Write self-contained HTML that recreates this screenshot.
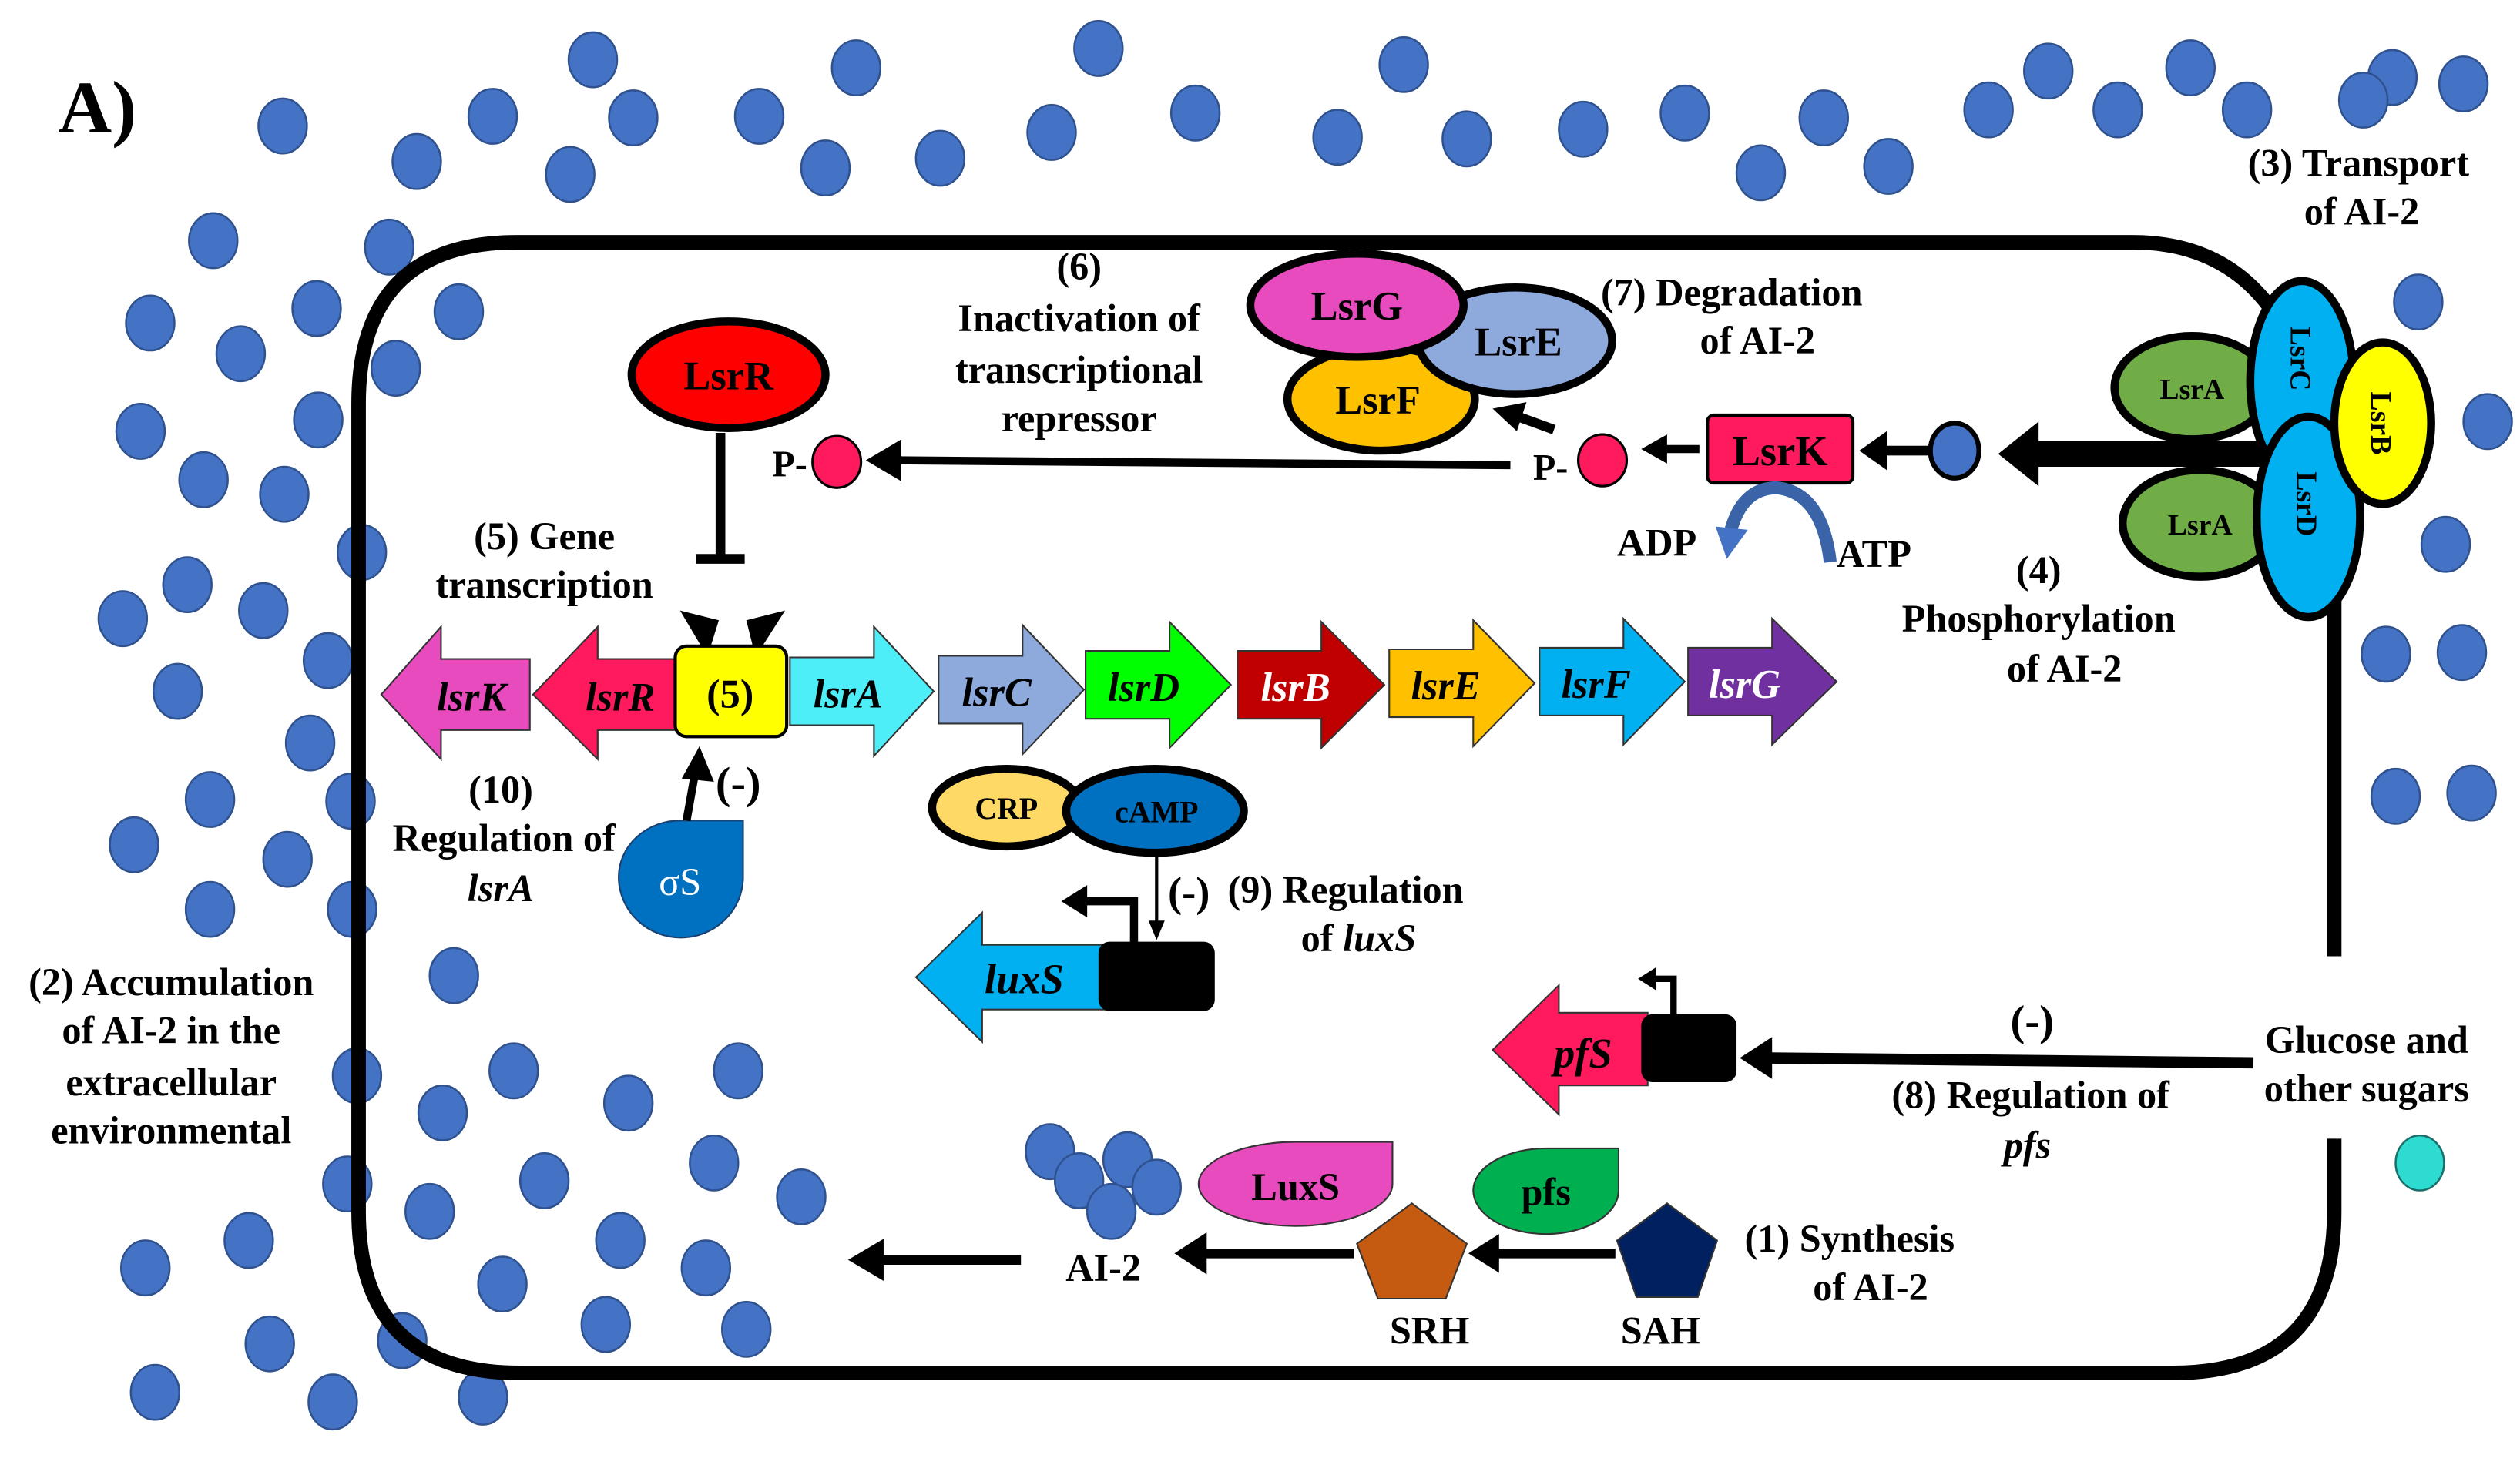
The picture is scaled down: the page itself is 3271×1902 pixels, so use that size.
<!DOCTYPE html>
<html><head><meta charset="utf-8"><style>html,body{margin:0;padding:0;background:#fff}svg{display:block}text{font-family:"Liberation Serif",serif;font-weight:bold;fill:#000}</style></head><body>
<svg width="3271" height="1902" viewBox="0 0 1560 907" preserveAspectRatio="none" xmlns="http://www.w3.org/2000/svg">
<rect width="1560" height="907" fill="#fff"/>
<text x="36" y="82" font-size="46">A)</text>
<g fill="#4472C4" stroke="#2F528F" stroke-width="1.2">
<ellipse cx="175" cy="78" rx="15" ry="17"/><ellipse cx="258" cy="100" rx="15" ry="17"/><ellipse cx="305" cy="72" rx="15" ry="17"/><ellipse cx="367" cy="37" rx="15" ry="17"/><ellipse cx="392" cy="73" rx="15" ry="17"/><ellipse cx="353" cy="108" rx="15" ry="17"/><ellipse cx="470" cy="72" rx="15" ry="17"/><ellipse cx="511" cy="104" rx="15" ry="17"/><ellipse cx="530" cy="42" rx="15" ry="17"/><ellipse cx="582" cy="98" rx="15" ry="17"/><ellipse cx="651" cy="82" rx="15" ry="17"/><ellipse cx="680" cy="30" rx="15" ry="17"/><ellipse cx="740" cy="70" rx="15" ry="17"/><ellipse cx="828" cy="85" rx="15" ry="17"/><ellipse cx="869" cy="40" rx="15" ry="17"/><ellipse cx="908" cy="86" rx="15" ry="17"/><ellipse cx="980" cy="80" rx="15" ry="17"/><ellipse cx="1043" cy="70" rx="15" ry="17"/><ellipse cx="1090" cy="107" rx="15" ry="17"/><ellipse cx="1129" cy="73" rx="15" ry="17"/><ellipse cx="1169" cy="103" rx="15" ry="17"/><ellipse cx="1231" cy="68" rx="15" ry="17"/><ellipse cx="1268" cy="44" rx="15" ry="17"/><ellipse cx="1311" cy="68" rx="15" ry="17"/><ellipse cx="1356" cy="42" rx="15" ry="17"/><ellipse cx="1391" cy="68" rx="15" ry="17"/><ellipse cx="1481" cy="48" rx="15" ry="17"/><ellipse cx="1463" cy="62" rx="15" ry="17"/><ellipse cx="1525" cy="52" rx="15" ry="17"/>
<ellipse cx="132" cy="149" rx="15" ry="17"/><ellipse cx="241" cy="153" rx="15" ry="17"/><ellipse cx="93" cy="200" rx="15" ry="17"/><ellipse cx="196" cy="191" rx="15" ry="17"/><ellipse cx="284" cy="193" rx="15" ry="17"/><ellipse cx="149" cy="219" rx="15" ry="17"/><ellipse cx="245" cy="228" rx="15" ry="17"/><ellipse cx="87" cy="267" rx="15" ry="17"/><ellipse cx="197" cy="260" rx="15" ry="17"/><ellipse cx="126" cy="297" rx="15" ry="17"/><ellipse cx="176" cy="306" rx="15" ry="17"/><ellipse cx="224" cy="342" rx="15" ry="17"/><ellipse cx="116" cy="362" rx="15" ry="17"/><ellipse cx="163" cy="378" rx="15" ry="17"/><ellipse cx="76" cy="383" rx="15" ry="17"/><ellipse cx="203" cy="409" rx="15" ry="17"/><ellipse cx="110" cy="428" rx="15" ry="17"/><ellipse cx="192" cy="460" rx="15" ry="17"/><ellipse cx="130" cy="495" rx="15" ry="17"/><ellipse cx="217" cy="496" rx="15" ry="17"/><ellipse cx="83" cy="523" rx="15" ry="17"/><ellipse cx="178" cy="532" rx="15" ry="17"/><ellipse cx="218" cy="563" rx="15" ry="17"/><ellipse cx="130" cy="563" rx="15" ry="17"/><ellipse cx="281" cy="604" rx="15" ry="17"/><ellipse cx="221" cy="666" rx="15" ry="17"/><ellipse cx="274" cy="689" rx="15" ry="17"/><ellipse cx="318" cy="663" rx="15" ry="17"/><ellipse cx="389" cy="683" rx="15" ry="17"/><ellipse cx="457" cy="663" rx="15" ry="17"/><ellipse cx="215" cy="733" rx="15" ry="17"/><ellipse cx="266" cy="750" rx="15" ry="17"/><ellipse cx="337" cy="731" rx="15" ry="17"/><ellipse cx="442" cy="720" rx="15" ry="17"/><ellipse cx="496" cy="741" rx="15" ry="17"/><ellipse cx="384" cy="768" rx="15" ry="17"/><ellipse cx="90" cy="785" rx="15" ry="17"/><ellipse cx="154" cy="768" rx="15" ry="17"/><ellipse cx="311" cy="795" rx="15" ry="17"/><ellipse cx="437" cy="785" rx="15" ry="17"/><ellipse cx="167" cy="832" rx="15" ry="17"/><ellipse cx="249" cy="830" rx="15" ry="17"/><ellipse cx="375" cy="820" rx="15" ry="17"/><ellipse cx="462" cy="823" rx="15" ry="17"/><ellipse cx="96" cy="862" rx="15" ry="17"/><ellipse cx="206" cy="868" rx="15" ry="17"/><ellipse cx="299" cy="865" rx="15" ry="17"/>
<ellipse cx="1497" cy="187" rx="15" ry="17"/><ellipse cx="1540" cy="261" rx="15" ry="17"/><ellipse cx="1514" cy="337" rx="15" ry="17"/><ellipse cx="1477" cy="405" rx="15" ry="17"/><ellipse cx="1524" cy="404" rx="15" ry="17"/><ellipse cx="1483" cy="493" rx="15" ry="17"/><ellipse cx="1530" cy="491" rx="15" ry="17"/>
<ellipse cx="650" cy="713" rx="15" ry="17"/><ellipse cx="698" cy="718" rx="15" ry="17"/><ellipse cx="716" cy="735" rx="15" ry="17"/><ellipse cx="668" cy="731" rx="15" ry="17"/><ellipse cx="688" cy="750" rx="15" ry="17"/>
</g>
<ellipse cx="1498" cy="720" rx="15" ry="17" fill="#2DDBD0" stroke="#1a6f6a" stroke-width="1.2"/>
<path d="M1405,190 Q1375,150 1320,150 L320,150 Q222,150 222,250 L222,750 Q222,850 322,850 L1345,850 Q1445,850 1445,750 L1445,705 M1445,592 L1445,350" fill="none" stroke="#000" stroke-width="9"/>
<ellipse cx="451" cy="232" rx="60" ry="33" fill="#FF0000" stroke="#000" stroke-width="5"/>
<text x="451" y="241" font-size="25" text-anchor="middle">LsrR</text>
<path d="M446,268 L446,346 M431,346 L461,346" stroke="#000" stroke-width="6" fill="none"/>
<text x="337" y="340" font-size="24" text-anchor="middle">(5) Gene</text>
<text x="337" y="370" font-size="24" text-anchor="middle">transcription</text>
<path d="M421,378 L445,384 L440,400 L434,400 Z" fill="#000"/><path d="M486,378 L462,384 L466,400 L472,400 Z" fill="#000"/>
<g stroke="#333" stroke-width="1">
<path d="M236,430 L273,388 L273,408 L328,408 L328,452 L273,452 L273,470 Z" fill="#E84BBD"/>
<path d="M330,430 L370,388 L370,408 L420,408 L420,452 L370,452 L370,470 Z" fill="#FF1A5E"/>
<path d="M489,407 L541,407 L541,388 L578,428 L541,468 L541,449 L489,449 Z" fill="#4DEEF8"/>
<path d="M581,406 L633,406 L633,387 L671,427 L633,467 L633,448 L581,448 Z" fill="#8EA9DB"/>
<path d="M672,403 L724,403 L724,385 L762,424 L724,463 L724,445 L672,445 Z" fill="#00FF00"/>
<path d="M766,403 L818,403 L818,385 L857,424 L818,463 L818,445 L766,445 Z" fill="#C00000"/>
<path d="M860,402 L912,402 L912,384 L950,423 L912,462 L912,444 L860,444 Z" fill="#FFC000"/>
<path d="M953,401 L1005,401 L1005,383 L1043,422 L1005,461 L1005,443 L953,443 Z" fill="#00B0F0"/>
<path d="M1045,401 L1097,401 L1097,383 L1137,422 L1097,461 L1097,443 L1045,443 Z" fill="#7030A0"/>
</g>
<rect x="418" y="400" width="69" height="56" rx="7" fill="#FFFF00" stroke="#000" stroke-width="2"/>
<text x="452" y="438" font-size="25" text-anchor="middle">(5)</text>
<g font-size="25" font-style="italic" text-anchor="middle">
<text x="292" y="440">lsrK</text><text x="384" y="440">lsrR</text><text x="525" y="438">lsrA</text><text x="617" y="437">lsrC</text><text x="708" y="434">lsrD</text><text x="802" y="434" style="fill:#fff">lsrB</text><text x="895" y="433">lsrE</text><text x="988" y="432">lsrF</text><text x="1080" y="432" style="fill:#fff">lsrG</text>
</g>
<text x="668" y="173" font-size="24" text-anchor="middle">(6)</text>
<text x="668" y="205" font-size="24" text-anchor="middle">Inactivation  of</text>
<text x="668" y="237" font-size="24" text-anchor="middle">transcriptional</text>
<text x="668" y="267" font-size="24" text-anchor="middle">repressor</text>
<text x="478" y="295" font-size="23">P-</text>
<ellipse cx="518" cy="286" rx="15" ry="16" fill="#FF1A5E" stroke="#000" stroke-width="1.5"/>
<line x1="935" y1="288" x2="556" y2="285" stroke="#000" stroke-width="5"/>
<path d="M536,285 L558,272 L558,298 Z" fill="#000"/>
<ellipse cx="855" cy="247" rx="58" ry="32" fill="#FFC000" stroke="#000" stroke-width="5"/>
<ellipse cx="938" cy="211" rx="60" ry="33" fill="#8EA9DB" stroke="#000" stroke-width="5"/>
<ellipse cx="840" cy="189" rx="66" ry="32" fill="#E84BBD" stroke="#000" stroke-width="5"/>
<text x="840" y="198" font-size="25" text-anchor="middle">LsrG</text>
<text x="940" y="220" font-size="25" text-anchor="middle">LsrE</text>
<text x="853" y="256" font-size="25" text-anchor="middle">LsrF</text>
<line x1="962" y1="266" x2="940" y2="258" stroke="#000" stroke-width="6"/>
<path d="M924,253 L945,249 L939,267 Z" fill="#000"/>
<text x="1072" y="189" font-size="24" text-anchor="middle">(7) Degradation</text>
<text x="1088" y="219" font-size="24" text-anchor="middle">of AI-2</text>
<text x="949" y="297" font-size="23">P-</text>
<ellipse cx="992" cy="285" rx="15" ry="16" fill="#FF1A5E" stroke="#000" stroke-width="1.5"/>
<line x1="1052" y1="278" x2="1030" y2="278" stroke="#000" stroke-width="5"/>
<path d="M1016,278 L1032,269 L1032,287 Z" fill="#000"/>
<rect x="1057" y="257" width="90" height="42" rx="4" fill="#FF1A5E" stroke="#000" stroke-width="2"/>
<text x="1102" y="288" font-size="26" text-anchor="middle">LsrK</text>
<line x1="1195" y1="279" x2="1166" y2="279" stroke="#000" stroke-width="6"/>
<path d="M1151,279 L1168,267 L1168,291 Z" fill="#000"/>
<ellipse cx="1210" cy="279" rx="15" ry="17" fill="#4472C4" stroke="#000" stroke-width="3"/>
<line x1="1402" y1="281" x2="1258" y2="281" stroke="#000" stroke-width="16"/>
<path d="M1237,281 L1262,261 L1262,301 Z" fill="#000"/>
<path d="M1133,348 Q1128,305 1100,302 Q1078,302 1071,330" fill="none" stroke="#3A63A8" stroke-width="8"/>
<path d="M1062,326 L1082,328 L1069,346 Z" fill="#4472C4"/>
<text x="1001" y="344" font-size="24">ADP</text>
<text x="1137" y="351" font-size="24">ATP</text>
<text x="1262" y="361" font-size="24" text-anchor="middle">(4)</text>
<text x="1262" y="391" font-size="24" text-anchor="middle">Phosphorylation</text>
<text x="1278" y="422" font-size="24" text-anchor="middle">of  AI-2</text>
<ellipse cx="1357" cy="240" rx="48" ry="32" fill="#70AD47" stroke="#000" stroke-width="5"/>
<ellipse cx="1362" cy="324" rx="48" ry="33" fill="#70AD47" stroke="#000" stroke-width="5"/>
<text x="1357" y="247" font-size="18" text-anchor="middle">LsrA</text>
<text x="1362" y="331" font-size="18" text-anchor="middle">LsrA</text>
<ellipse cx="1425" cy="236" rx="32" ry="62" fill="#00B0F0" stroke="#000" stroke-width="5"/>
<ellipse cx="1429" cy="320" rx="32" ry="62" fill="#00B0F0" stroke="#000" stroke-width="5"/>
<ellipse cx="1475" cy="262" rx="30" ry="50" fill="#FFFF00" stroke="#000" stroke-width="5"/>
<text transform="translate(1418,222) rotate(90)" font-size="18" text-anchor="middle">LsrC</text>
<text transform="translate(1422,312) rotate(90)" font-size="18" text-anchor="middle">LsrD</text>
<text transform="translate(1468,262) rotate(90)" font-size="18" text-anchor="middle">LsrB</text>
<text x="1460" y="109" font-size="24" text-anchor="middle">(3) Transport</text>
<text x="1462" y="139" font-size="24" text-anchor="middle">of AI-2</text>
<text x="310" y="497" font-size="24" text-anchor="middle">(10)</text>
<text x="312" y="527" font-size="24" text-anchor="middle">Regulation  of</text>
<text x="310" y="558" font-size="24" font-style="italic" text-anchor="middle">lsrA</text>
<path d="M383,543 A38,37 0 0 0 460,543 L460,508 L421,508 A38,35 0 0 0 383,543 Z" fill="#0070C0" stroke="#1a3f70" stroke-width="1"/>
<text x="421" y="554" font-size="24" text-anchor="middle" style="fill:#fff;font-weight:normal">σS</text>
<line x1="425" y1="508" x2="430" y2="480" stroke="#000" stroke-width="5"/>
<path d="M433,462 L442,484 L422,482 Z" fill="#000"/>
<text x="457" y="494" font-size="28" text-anchor="middle">(-)</text>
<ellipse cx="623" cy="500" rx="46" ry="24" fill="#FFD966" stroke="#000" stroke-width="5"/>
<ellipse cx="715" cy="502" rx="55" ry="26" fill="#0070C0" stroke="#000" stroke-width="5"/>
<text x="623" y="507" font-size="19" text-anchor="middle">CRP</text>
<text x="716" y="509" font-size="19" text-anchor="middle">cAMP</text>
<line x1="716" y1="530" x2="716" y2="572" stroke="#000" stroke-width="2"/>
<path d="M716,582 L711,570 L721,570 Z" fill="#000"/>
<text x="736" y="561" font-size="26" text-anchor="middle">(-)</text>
<text x="760" y="559" font-size="24">(9) Regulation</text>
<text x="841" y="589" font-size="24" text-anchor="middle">of <tspan font-style="italic">luxS</tspan></text>
<path d="M567,605 L608,565 L608,585 L690,585 L690,625 L608,625 L608,645 Z" fill="#00B0F0" stroke="#333" stroke-width="1"/>
<text x="634" y="615" font-size="26" font-style="italic" text-anchor="middle">luxS</text>
<rect x="680" y="583" width="72" height="43" rx="7" fill="#000"/>
<path d="M702,585 L702,558 L672,558" fill="none" stroke="#000" stroke-width="5"/>
<path d="M657,558 L673,548 L673,568 Z" fill="#000"/>
<path d="M924,650 L965,610 L965,627 L1020,627 L1020,672 L965,672 L965,690 Z" fill="#FF1A5E" stroke="#333" stroke-width="1"/>
<text x="980" y="661" font-size="26" font-style="italic" text-anchor="middle">pfS</text>
<rect x="1016" y="628" width="59" height="42" rx="7" fill="#000"/>
<path d="M1036,630 L1036,606 L1024,606" fill="none" stroke="#000" stroke-width="4"/>
<path d="M1014,606 L1025,599 L1025,613 Z" fill="#000"/>
<line x1="1395" y1="658" x2="1095" y2="655" stroke="#000" stroke-width="7"/>
<path d="M1077,655 L1097,642 L1097,668 Z" fill="#000"/>
<text x="1258" y="641" font-size="27" text-anchor="middle">(-)</text>
<text x="1257" y="686" font-size="24" text-anchor="middle">(8) Regulation  of</text>
<text x="1255" y="717" font-size="24" font-style="italic" text-anchor="middle">pfs</text>
<text x="1465" y="652" font-size="24" text-anchor="middle">Glucose and</text>
<text x="1465" y="682" font-size="24" text-anchor="middle">other sugars</text>
<text x="106" y="616" font-size="24" text-anchor="middle">(2) Accumulation</text>
<text x="106" y="646" font-size="24" text-anchor="middle">of AI-2 in the</text>
<text x="106" y="678" font-size="24" text-anchor="middle">extracellular</text>
<text x="106" y="708" font-size="24" text-anchor="middle">environmental</text>
<path d="M742,733 A60,26 0 0 0 862,733 L862,707 L802,707 A60,26 0 0 0 742,733 Z" fill="#E84BBD" stroke="#333" stroke-width="1"/>
<text x="802" y="743" font-size="24" text-anchor="middle">LuxS</text>
<path d="M912,737 A45,27 0 0 0 1002,737 L1002,711 L957,711 A45,26 0 0 0 912,737 Z" fill="#00B050" stroke="#333" stroke-width="1"/>
<text x="957" y="746" font-size="24" text-anchor="middle">pfs</text>
<polygon points="874,745 908,770 895,804 853,804 840,770" fill="#C55A11" stroke="#333" stroke-width="1"/>
<polygon points="1032,745 1063,768 1051,803 1013,803 1001,768" fill="#002060" stroke="#333" stroke-width="1"/>
<line x1="1000" y1="776" x2="925" y2="776" stroke="#000" stroke-width="6"/>
<path d="M909,776 L928,764 L928,788 Z" fill="#000"/>
<line x1="838" y1="776" x2="745" y2="776" stroke="#000" stroke-width="6"/>
<path d="M727,776 L747,763 L747,789 Z" fill="#000"/>
<line x1="632" y1="780" x2="545" y2="780" stroke="#000" stroke-width="6"/>
<path d="M525,780 L547,767 L547,793 Z" fill="#000"/>
<text x="683" y="793" font-size="24" text-anchor="middle">AI-2</text>
<text x="885" y="832" font-size="24" text-anchor="middle">SRH</text>
<text x="1028" y="832" font-size="24" text-anchor="middle">SAH</text>
<text x="1145" y="775" font-size="24" text-anchor="middle">(1) Synthesis</text>
<text x="1158" y="805" font-size="24" text-anchor="middle">of AI-2</text>
</svg>
</body></html>
